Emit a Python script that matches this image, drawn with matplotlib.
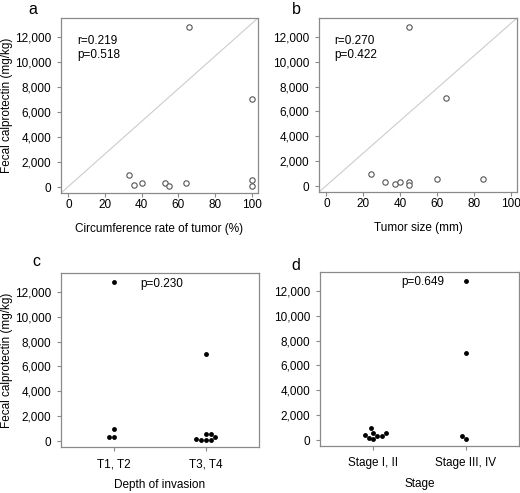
import matplotlib
matplotlib.use('Agg')
import matplotlib.pyplot as plt
import matplotlib.ticker as mticker
import seaborn as sns
import pandas as pd

# ---------------- data ----------------
# panel a: circumference rate of tumor (%) vs fecal calprotectin (mg/kg)
circ_rate = [33, 36, 40, 53, 55, 64, 66, 100, 100, 100]
fc_a = [950, 160, 320, 320, 50, 320, 12800, 7050, 600, 50]
# panel b: tumor size (mm) vs fecal calprotectin
tumor_size = [24, 32, 37, 40, 45, 45, 45, 60, 65, 85]
fc_b = [950, 320, 180, 320, 350, 80, 12800, 600, 7050, 600]
# panel c: depth of invasion groups
depth_cats = ['T1, T2', 'T3, T4']
fc_t12 = [12800, 950, 320, 320]
fc_t34 = [7000, 600, 600, 320, 160, 80, 50, 50]
# panel d: stage groups
stage_cats = ['Stage I, II', 'Stage III, IV']
fc_s12 = [950, 600, 600, 400, 320, 300, 160, 50]
fc_s34 = [12800, 7000, 350, 50]

stats_a = ['r=0.219', 'p=0.518']
stats_b = ['r=0.270', 'p=0.422']
p_c = 'p=0.230'
p_d = 'p=0.649'

y_ticks = [0, 2000, 4000, 6000, 8000, 10000, 12000]
x_ticks = [0, 20, 40, 60, 80, 100]

# ---------------- style ----------------
plt.rcParams['font.family'] = ['Liberation Sans', 'DejaVu Sans']
FS = 8.5
GRAY = '#8a8a8a'

W, H = 520, 493
fig = plt.figure(figsize=(W / 100, H / 100), dpi=100)


def box(l, r, t, b):
    return [l / W, (H - b) / H, (r - l) / W, (b - t) / H]


ax_a = fig.add_axes(box(61, 258, 18, 193))
ax_b = fig.add_axes(box(319, 517, 18, 192))
ax_c = fig.add_axes(box(61, 259, 273, 447))
ax_d = fig.add_axes(box(320, 519, 272, 446))

fmt = mticker.FuncFormatter(lambda v, p: f'{int(v):,}')


def style(ax, xpad):
    for s in ax.spines.values():
        s.set_color(GRAY)
        s.set_linewidth(0.9)
    ax.tick_params(axis='both', colors=GRAY, labelcolor='black',
                   labelsize=FS, length=3, width=0.8, direction='out')
    ax.tick_params(axis='y', pad=4)
    ax.tick_params(axis='x', pad=xpad)
    ax.set_ylim(-480, 13520)
    ax.set_yticks(y_ticks)
    ax.yaxis.set_major_formatter(fmt)


# scatter panels
for ax, xs, ys, stats, xl, tx in [
        (ax_a, circ_rate, fc_a, stats_a, 'Circumference rate of tumor (%)', 0.085),
        (ax_b, tumor_size, fc_b, stats_b, 'Tumor size (mm)', 0.075)]:
    ax.plot([0, 1], [0, 1], transform=ax.transAxes, color='#cccccc', lw=0.8, zorder=1)
    ax.scatter(xs, ys, s=15, facecolors='white', edgecolors='#555555',
               linewidths=0.8, zorder=3)
    style(ax, 1.5)
    ax.set_xlim(-4, 103.5)
    ax.set_xticks(x_ticks)
    ax.set_xlabel(xl, fontsize=FS, va='center')
    ax.xaxis.set_label_coords(0.5, -36 / 175)
    ax.text(tx, 0.905, '\n'.join(stats), transform=ax.transAxes,
            fontsize=FS, ha='left', va='top', linespacing=1.3)

# swarm panels
df_c = pd.DataFrame({'grp': [depth_cats[0]] * len(fc_t12) + [depth_cats[1]] * len(fc_t34),
                     'fc': fc_t12 + fc_t34})
df_d = pd.DataFrame({'grp': [stage_cats[0]] * len(fc_s12) + [stage_cats[1]] * len(fc_s34),
                     'fc': fc_s12 + fc_s34})

for ax, df, cats, xl, ptxt, px, py in [
        (ax_c, df_c, depth_cats, 'Depth of invasion', p_c, 0.40, 0.935),
        (ax_d, df_d, stage_cats, 'Stage', p_d, 0.41, 0.94)]:
    sns.swarmplot(data=df, x='grp', y='fc', order=cats, ax=ax,
                  color='black', size=3.5, linewidth=0)
    style(ax, 5)
    ax.set_xlim(-0.58, 1.58)
    ax.set_xlabel(xl, fontsize=FS, va='center')
    ax.xaxis.set_label_coords(0.5, -38 / 174)
    ax.set_ylabel('')
    ax.text(px, py, ptxt, transform=ax.transAxes, fontsize=FS,
            ha='left', va='center')

for ax in (ax_a, ax_c):
    ax.set_ylabel('Fecal calprotectin (mg/kg)', fontsize=FS, va='center')
    ax.yaxis.set_label_coords(-54 / 197, 0.5)

# panel letters
for lbl, x, y in [('a', 33, 9), ('b', 296, 9), ('c', 36, 262), ('d', 296, 265)]:
    fig.text(x / W, 1 - y / H, lbl, fontsize=11.5, ha='center', va='center')

fig.savefig('out.png', dpi=100)
